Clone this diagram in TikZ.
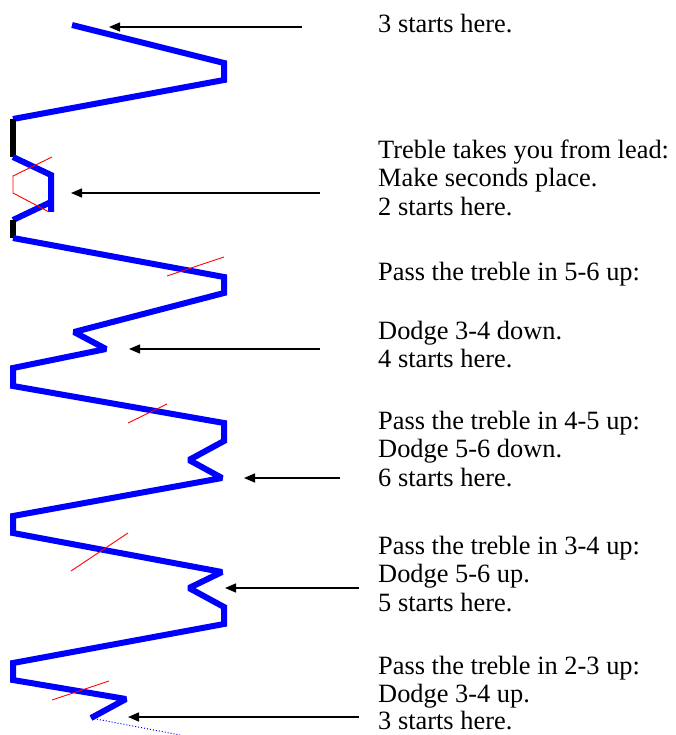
\documentclass[tikz,border=0pt]{standalone}
\usepackage{fontspec}
\setmainfont{Liberation Serif}
\usetikzlibrary{arrows.meta}
\tikzset{
  bluepath/.style={draw={rgb,255:red,0;green,0;blue,255}, line width=6pt, line join=miter, miter limit=1.5},
  blackpath/.style={draw=black, line width=6pt},
  trebleline/.style={draw=red, line width=0.9pt},
  pointer/.style={draw=black, line width=1.4pt, -{Triangle[length=11pt,width=9pt]}},
  dottedline/.style={draw={rgb,255:red,0;green,0;blue,255}, line width=1pt, dotted},
  lbl/.style={anchor=base west, inner sep=0pt, font=\fontsize{26.4}{28}\selectfont}
}
\begin{document}
\begin{tikzpicture}[x=1pt,y=-1pt]
\useasboundingbox (0,0) rectangle (675,735);
% blue line
\draw[bluepath] (72,25) -- (224,63) -- (224,80) -- (13,119);
\draw[blackpath] (13,119) -- (13,157);
\draw[bluepath] (13,157) -- (51,175) -- (51,212);
\draw[bluepath] (51,202) -- (13,220);
\draw[blackpath] (13,220) -- (13,238);
\draw[bluepath] (13,238) -- (224,277) -- (224,293) -- (74,332) -- (106,349)
  -- (13,368) -- (13,386) -- (224,423) -- (224,441) -- (189,460) -- (222,478)
  -- (13,516) -- (13,533) -- (222,572) -- (189,588) -- (224,607) -- (224,624)
  -- (13,663) -- (13,680) -- (126,699) -- (91,718);
\draw[dottedline] (91,718) -- (180,735);
% treble
\draw[trebleline] (52,157) -- (13,176) -- (13,193) -- (49,212);
\draw[trebleline] (167,276) -- (224,257);
\draw[trebleline] (128,423) -- (167,404);
\draw[trebleline] (71,571) -- (128,533);
\draw[trebleline] (52,700) -- (109,681);
% arrow coordinates
\coordinate (a1s) at (302,27);  \coordinate (a1e) at (109,27);
\coordinate (a2s) at (320,193); \coordinate (a2e) at (71,193);
\coordinate (a3s) at (320,349); \coordinate (a3e) at (129,349);
\coordinate (a4s) at (340,478); \coordinate (a4e) at (244,478);
\coordinate (a5s) at (359,588); \coordinate (a5e) at (225,588);
\coordinate (a6s) at (359,717); \coordinate (a6e) at (128,717);
\draw[pointer] (a1s) -- (a1e);
\draw[pointer] (a2s) -- (a2e);
\draw[pointer] (a3s) -- (a3e);
\draw[pointer] (a4s) -- (a4e);
\draw[pointer] (a5s) -- (a5e);
\draw[pointer] (a6s) -- (a6e);
% labels
\node[lbl] (t1) at (378,33) {3 starts here.};
\node[lbl] (t2) at (378,159) {Treble takes you from lead:};
\node[lbl] (t3) at (378,187) {Make seconds place.};
\node[lbl] (t4) at (378,215) {2 starts here.};
\node[lbl] (t5) at (378,280) {Pass the treble in 5-6 up:};
\node[lbl] (t6) at (378,339) {Dodge 3-4 down.};
\node[lbl] (t7) at (378,367) {4 starts here.};
\node[lbl] (t8) at (378,429) {Pass the treble in 4-5 up:};
\node[lbl] (t9) at (378,457) {Dodge 5-6 down.};
\node[lbl] (t10) at (378,486) {6 starts here.};
\node[lbl] (t11) at (378,554) {Pass the treble in 3-4 up:};
\node[lbl] (t12) at (378,582) {Dodge 5-6 up.};
\node[lbl] (t13) at (378,611) {5 starts here.};
\node[lbl] (t14) at (378,674) {Pass the treble in 2-3 up:};
\node[lbl] (t15) at (378,702) {Dodge 3-4 up.};
\node[lbl] (t16) at (378,729) {3 starts here.};
\end{tikzpicture}
\end{document}
